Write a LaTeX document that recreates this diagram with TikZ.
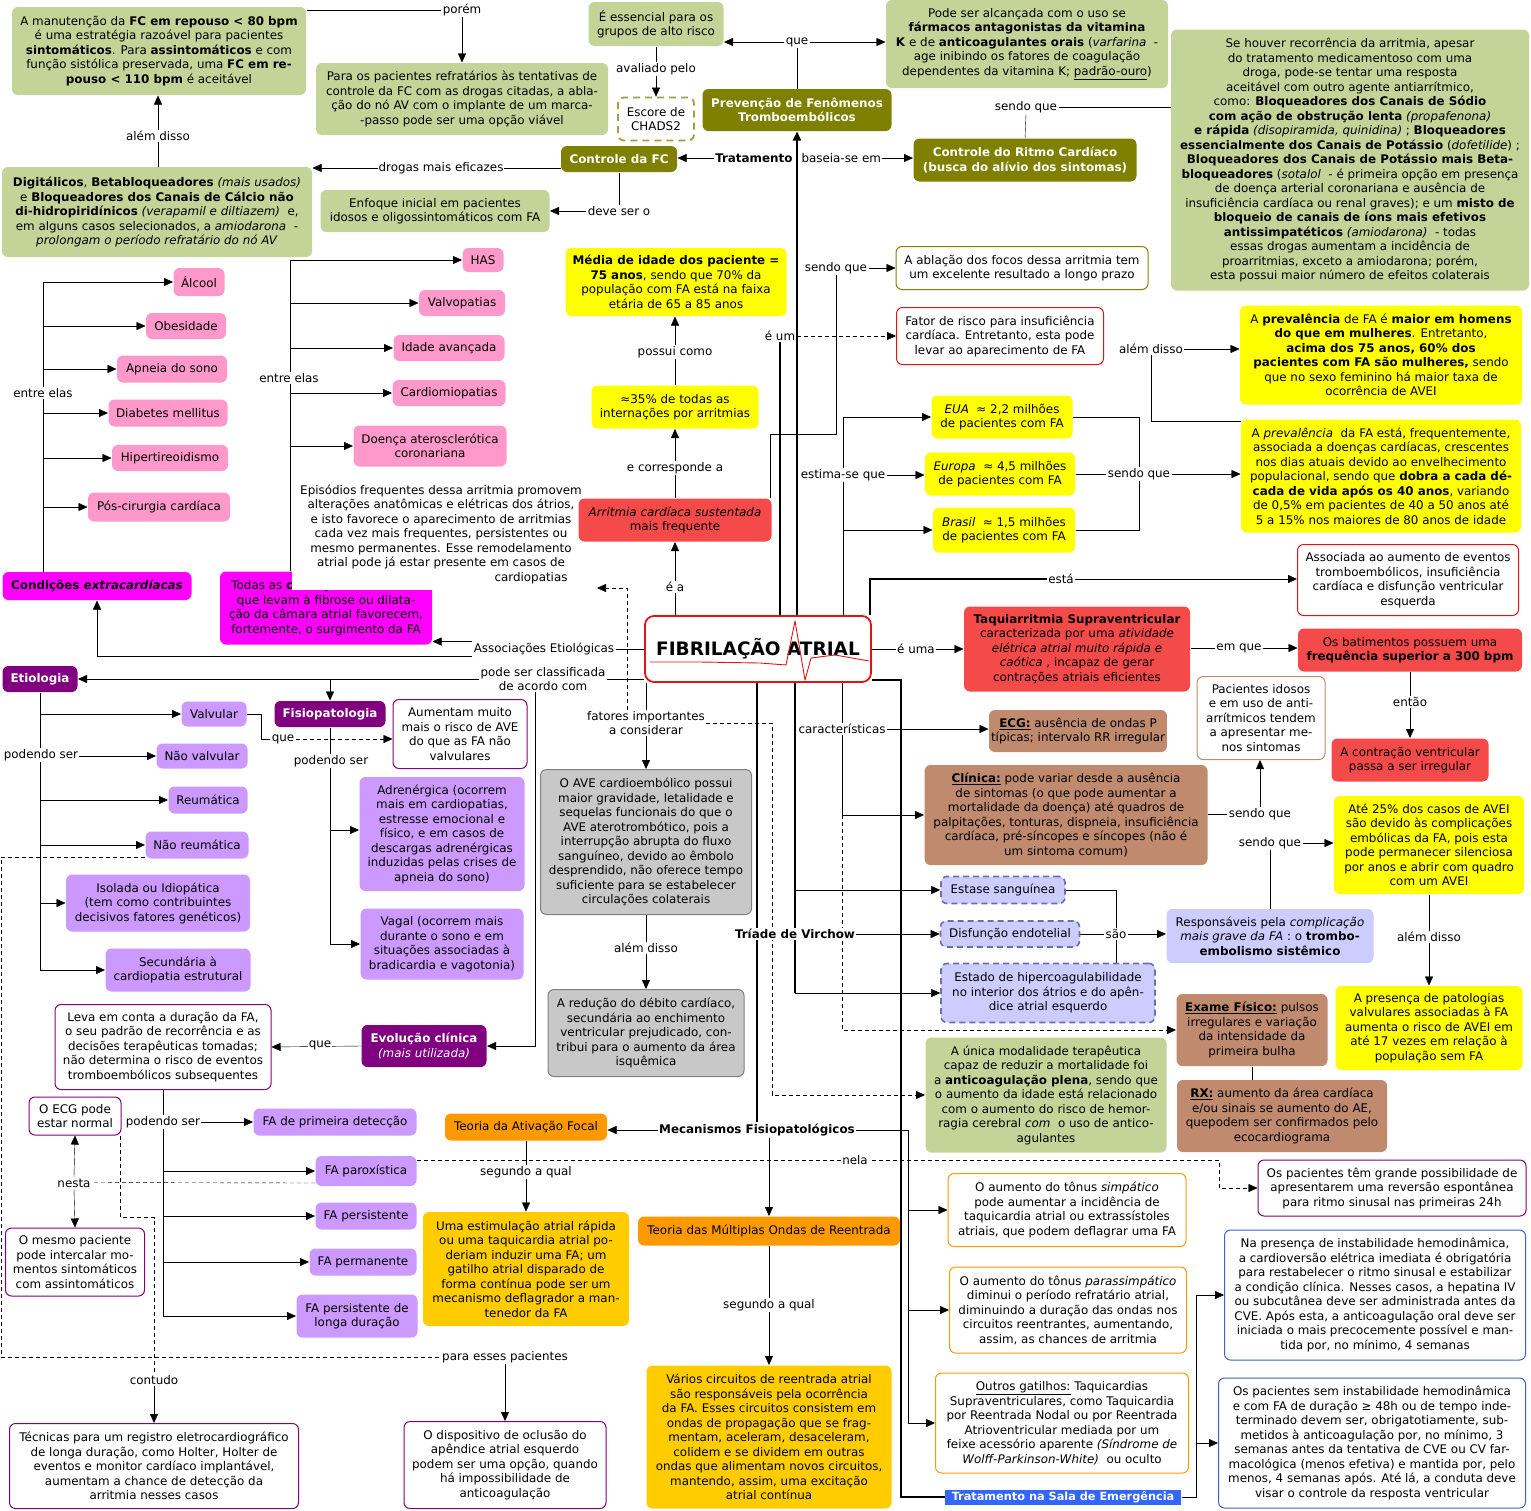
\documentclass[tikz,border=0pt]{standalone}
\usepackage{fontspec}
\setmainfont{DejaVu Sans}
\usetikzlibrary{arrows.meta,calc}
\newcommand\fs{\fontsize{11.9}{14.5}\selectfont}
\definecolor{cgreen}{RGB}{196,212,152}
\definecolor{colive}{RGB}{128,128,0}
\definecolor{cred}{RGB}{245,74,74}
\definecolor{cpink}{RGB}{255,153,204}
\definecolor{cmag}{RGB}{255,0,255}
\definecolor{cpurp}{RGB}{128,0,128}
\definecolor{clpurp}{RGB}{204,153,255}
\definecolor{clav}{RGB}{204,204,255}
\definecolor{clavb}{RGB}{110,110,175}
\definecolor{cbrown}{RGB}{192,138,110}
\definecolor{cgray}{RGB}{200,200,200}
\definecolor{corange}{RGB}{255,153,0}
\definecolor{cgold}{RGB}{255,204,0}
\definecolor{cblue}{RGB}{51,102,255}
\definecolor{cbord}{RGB}{60,100,200}
\definecolor{cyel}{RGB}{255,255,0}
\definecolor{cdred}{RGB}{225,20,20}
\pgfdeclarelayer{bg}
\pgfsetlayers{bg,main}
\begin{document}
\begin{tikzpicture}[x=1pt,y=-1pt,line width=1pt,
 base/.style={rounded corners=6pt,align=center,inner sep=2pt,font=\fs},
 wh/.style 2 args={minimum width=#1pt,minimum height=#2pt},
 sgreen/.style={base,fill=cgreen},
 solive/.style={base,fill=colive,text=white,font=\fs\bfseries},
 syel/.style={base,fill=cyel},
 sred/.style={base,fill=cred},
 spink/.style={base,fill=cpink},
 smag/.style={base,fill=cmag},
 spurp/.style={base,fill=cpurp,text=white,font=\fs\bfseries},
 slpurp/.style={base,fill=clpurp},
 slavd/.style={base,fill=clav,draw=clavb,line width=1.6pt,dash pattern=on 6pt off 4pt},
 slav/.style={base,fill=clav},
 sbrown/.style={base,fill=cbrown},
 sgray/.style={base,fill=cgray,draw=gray},
 sorange/.style={base,fill=corange},
 sgold/.style={base,fill=cgold},
 wpurp/.style={base,fill=white,draw=cpurp},
 wred/.style={base,fill=white,draw=cdred},
 wolive/.style={base,fill=white,draw=colive},
 wbrown/.style={base,fill=white,draw=cbrown},
 worange/.style={base,fill=white,draw=corange},
 wblue/.style={base,fill=white,draw=cbord},
 lbl/.style={font=\fs,fill=white,inner sep=1pt,align=center},
 tip/.style={-{Triangle[length=9pt,width=8pt]}},
 thk/.style={line width=2pt},
 dsh/.style={dash pattern=on 4pt off 3pt}]
\useasboundingbox (0,0) rectangle (1531,1510);

% ---------------- nodes ----------------
\node[sgreen,wh={294}{88}] (fc80) at (159,51) {A manutenção da \textbf{FC em repouso < 80 bpm}\\ é uma estratégia razoável para pacientes\\ \textbf{sintomáticos}. Para \textbf{assintomáticos} e com\\ função sistólica preservada, uma \textbf{FC em re-}\\ \textbf{pouso < 110 bpm} é aceitável};
\node[sgreen,wh={292}{72}] (refrat) at (462,99) {Para os pacientes refratários às tentativas de\\ controle da FC com as drogas citadas, a abla-\\ ção do nó AV com o implante de um marca-\\ -passo pode ser uma opção viável};
\node[sgreen,wh={135}{44}] (essencial) at (656,24) {É essencial para os\\ grupos de alto risco};
\node[base,fill=white,draw={rgb,255:red,160;green,160;blue,70},line width=1.8pt,dash pattern=on 7pt off 5pt,wh={76}{43}] (chads) at (656,119) {Escore de\\ CHADS2};
\node[solive,wh={189}{42}] (prev) at (797,110) {Prevenção de Fenômenos\\ Tromboembólicos};
\node[sgreen,wh={282}{88}] (varf) at (1027,44) {Pode ser alcançada com o uso se\\ \textbf{fármacos antagonistas da vitamina}\\ \textbf{K} e de \textbf{anticoagulantes orais} (\textit{varfarina}~ -\\ age inibindo os fatores de coagulação\\ dependentes da vitamina K; \underline{padrão-ouro})};
\node[solive,wh={116}{26}] (ctrlfc) at (619,159) {Controle da FC};
\node[solive,wh={223}{43}] (ritmo) at (1025,160) {Controle do Ritmo Cardíaco\\ (busca do alívio dos sintomas)};
\node[sgreen,wh={358}{261}] (recorr) at (1350,160) {Se houver recorrência da arritmia, apesar\\ do tratamento medicamentoso com uma\\ droga, pode-se tentar uma resposta\\ aceitável com outro agente antiarrítmico,\\ como: \textbf{Bloqueadores dos Canais de Sódio}\\ \textbf{com ação de obstrução lenta} \textit{(propafenona)}\\ \textbf{e rápida} \textit{(disopiramida, quinidina)} ; \textbf{Bloqueadores}\\ \textbf{essencialmente dos Canais de Potássio} (\textit{dofetilide}) ;\\ \textbf{Bloqueadores dos Canais de Potássio mais Beta-}\\ \textbf{bloqueadores} (\textit{sotalol}~ - é primeira opção em presença\\ de doença arterial coronariana e ausência de\\ insuficiência cardíaca ou renal graves); e um \textbf{misto de}\\ \textbf{bloqueio de canais de íons mais efetivos}\\ \textbf{antissimpatéticos} \textit{(amiodarona)}~ - todas\\ essas drogas aumentam a incidência de\\ proarritmias, exceto a amiodarona; porém,\\ esta possui maior número de efeitos colaterais};
\node[sgreen,wh={310}{90}] (digit) at (157,212) {\textbf{Digitálicos}, \textbf{Betabloqueadores} \textit{(mais usados)}\\ e \textbf{Bloqueadores dos Canais de Cálcio não}\\ \textbf{di-hidropiridínicos} \textit{(verapamil e diltiazem)}~ e,\\ em alguns casos selecionados, a \textit{amiodarona}~ -\\ \textit{prolongam o período refratário do nó AV}};
\node[sgreen,wh={229}{42}] (enfoque) at (435,211) {Enfoque inicial em pacientes\\ idosos e oligossintomáticos com FA};

\node[spink,wh={41}{24}] (has) at (483,260) {HAS};
\node[spink,wh={86}{26}] (valvop) at (462,303) {Valvopatias};
\node[spink,wh={111}{26}] (idade) at (449,348) {Idade avançada};
\node[spink,wh={113}{26}] (cardiom) at (449,393) {Cardiomiopatias};
\node[spink,wh={153}{41}] (doenca) at (430,446) {Doença aterosclerótica\\ coronariana};
\node[spink,wh={51}{28}] (alcool) at (199,282) {Álcool};
\node[spink,wh={80}{26}] (obes) at (186,326) {Obesidade};
\node[spink,wh={110}{27}] (apneia) at (172,369) {Apneia do sono};
\node[spink,wh={119}{27}] (diab) at (168,413) {Diabetes mellitus};
\node[spink,wh={116}{26}] (hiper) at (170,458) {Hipertireoidismo};
\node[spink,wh={142}{29}] (poscir) at (159,507) {Pós-cirurgia cardíaca};
\node[smag,wh={189}{28},font=\fs\bfseries] (cond) at (97,586) {Condições \textit{extracardíacas}};
\node[smag,wh={212}{73}] (todas) at (326,608) {Todas as \textbf{condições cardíacas}\\ que levam à fibrose ou dilata-\\ ção da câmara atrial favorecem,\\ fortemente, o surgimento da FA};
\node[base,fill=white,rounded corners=0pt,wh={298}{112}] (epis) at (441,534) {Episódios frequentes dessa arritmia promovem\\ alterações anatômicas e elétricas dos átrios,\\ e isto favorece o aparecimento de arritmias\\ cada vez mais frequentes, persistentes ou\\ mesmo permanentes. Esse remodelamento\\ atrial pode já estar presente em casos de\\ \hspace*{180pt}cardiopatias};

\node[syel,wh={221}{68}] (media) at (676,282) {\textbf{Média de idade dos paciente =}\\ \textbf{75 anos}, sendo que 70\% da\\ população com FA está na faixa\\ etária de 65 a 85 anos};
\node[syel,wh={167}{43}] (p35) at (675,407) {≈35\% de todas as\\ internações por arritmias};
\node[sred,wh={193}{43}] (arrit) at (675,520) {\textit{Arritmia cardíaca sustentada}\\ mais frequente};
\node[wolive,wh={252}{43}] (abl) at (1022,268) {A ablação dos focos dessa arritmia tem\\ um excelente resultado a longo prazo};
\node[wred,wh={207}{57}] (fator) at (1000,336) {Fator de risco para insuficiência\\ cardíaca. Entretanto, esta pode\\ levar ao aparecimento de FA};
\node[syel,wh={141}{43}] (eua) at (1002,417) {\textit{EUA}~ ≈ 2,2 milhões\\ de pacientes com FA};
\node[syel,wh={150}{43}] (europa) at (1000,474) {\textit{Europa}~ ≈ 4,5 milhões\\ de pacientes com FA};
\node[syel,wh={142}{45}] (brasil) at (1004,530) {\textit{Brasil}~ ≈ 1,5 milhões\\ de pacientes com FA};
\node[syel,wh={282}{99}] (prevA) at (1381,355) {A \textbf{prevalência} de FA é \textbf{maior em homens}\\ \textbf{do que em mulheres}. Entretanto,\\ \textbf{acima dos 75 anos, 60\% dos}\\ \textbf{pacientes com FA são mulheres,} sendo\\ que no sexo feminino há maior taxa de\\ ocorrência de AVEI};
\node[syel,wh={280}{113}] (prevB) at (1381,476) {A \textit{prevalência}~ da FA está, frequentemente,\\ associada a doenças cardíacas, crescentes\\ nos dias atuais devido ao envelhecimento\\ populacional, sendo que \textbf{dobra a cada dé-}\\ \textbf{cada de vida após os 40 anos}, variando\\ de 0,5\% em pacientes de 40 a 50 anos até\\ 5 a 15\% nos maiores de 80 anos de idade};
\node[wred,wh={221}{71}] (assoc) at (1408,580) {Associada ao aumento de eventos\\ tromboembólicos, insuficiência\\ cardíaca e disfunção ventricular\\ esquerda};

\node[base,fill=white,draw=cdred,line width=1.8pt,rounded corners=9pt,wh={226}{66},font=\fontsize{18.5}{20}\selectfont\bfseries] (fa) at (758,649) {FIBRILAÇÃO ATRIAL};
\draw[cdred,line width=0.9pt,line join=round] (650,662) -- (700,662) -- (760,663) -- (786,665) -- (795,621) -- (805,680) -- (811,658) -- (835,655) -- (869,661);

\node[sred,wh={226}{85}] (taqui) at (1077,649) {\textbf{Taquiarritmia Supraventricular}\\ caracterizada por uma \textit{atividade}\\ \textit{elétrica atrial muito rápida e}\\ \textit{caótica} , incapaz de gerar\\ contrações atriais eficientes};
\node[sred,wh={224}{43}] (bat) at (1410,650) {Os batimentos possuem uma\\ \textbf{frequência superior a 300 bpm}};
\node[sred,wh={157}{43}] (contr) at (1410,760) {A contração ventricular\\ passa a ser irregular};
\node[wbrown,wh={128}{83}] (idosos) at (1261,718) {Pacientes idosos\\ e em uso de anti-\\ arrítmicos tendem\\ a apresentar me-\\ nos sintomas};
\node[sbrown,wh={163}{42}] (ecgb) at (1078,731) {\underline{\textbf{ECG:}} ausência de ondas P\\ típicas; intervalo RR irregular};
\node[sbrown,wh={283}{100}] (clin) at (1066,815) {\underline{\textbf{Clínica:}} pode variar desde a ausência\\ de sintomas (o que pode aumentar a\\ mortalidade da doença) até quadros de\\ palpitações, tonturas, dispneia, insuficiência\\ cardíaca, pré-síncopes e síncopes (não é\\ um sintoma comum)};
\node[slavd,wh={124}{27}] (estase) at (1003,890) {Estase sanguínea};
\node[slavd,wh={139}{26}] (disf) at (1010,934) {Disfunção endotelial};
\node[slavd,wh={214}{59}] (estado) at (1048,993) {Estado de hipercoagulabilidade\\ no interior dos átrios e do apên-\\ dice atrial esquerdo};
\node[slav,wh={207}{54}] (resp) at (1270,936) {Responsáveis pela \textit{complicação}\\ \textit{mais grave da FA} : o \textbf{trombo-}\\ \textbf{embolismo sistêmico}};
\node[syel,wh={190}{98}] (ate25) at (1429,845) {Até 25\% dos casos de AVEI\\ são devido às complicações\\ embólicas da FA, pois esta\\ pode permanecer silenciosa\\ por anos e abrir com quadro\\ com um AVEI};
\node[syel,wh={187}{84}] (pres) at (1429,1028) {A presença de patologias\\ valvulares associadas à FA\\ aumenta o risco de AVEI em\\ até 17 vezes em relação à\\ população sem FA};
\node[sbrown,wh={151}{72}] (exame) at (1252,1030) {\underline{\textbf{Exame Físico:}} pulsos\\ irregulares e variação\\ da intensidade da\\ primeira bulha};
\node[sbrown,wh={210}{72}] (rx) at (1282,1116) {\underline{\textbf{RX:}} aumento da área cardíaca\\ e/ou sinais se aumento do AE,\\ quepodem ser confirmados pelo\\ ecocardiograma};
\node[sgreen,wh={241}{115}] (unica) at (1046,1095) {A única modalidade terapêutica\\ capaz de reduzir a mortalidade foi\\ a \textbf{anticoagulação plena}, sendo que\\ o aumento da idade está relacionado\\ com o aumento do risco de hemor-\\ ragia cerebral \textit{com}~ o uso de antico-\\ agulantes};

\node[spurp,wh={75}{26}] (etio) at (40,679) {Etiologia};
\node[spurp,wh={111}{26}] (fisio) at (330,714) {Fisiopatologia};
\node[slpurp,wh={65}{25}] (valv) at (214,714) {Valvular};
\node[slpurp,wh={91}{25}] (naoval) at (202,756) {Não valvular};
\node[slpurp,wh={79}{27}] (reum) at (208,800) {Reumática};
\node[slpurp,wh={103}{27}] (naoreu) at (197,845) {Não reumática};
\node[slpurp,wh={184}{57}] (isol) at (158,903) {Isolada ou Idiopática\\ (tem como contribuintes\\ decisivos fatores genéticos)};
\node[slpurp,wh={145}{43}] (sec) at (178,970) {Secundária à\\ cardiopatia estrutural};
\node[wpurp,wh={134}{69}] (aum) at (460,734) {Aumentam muito\\ mais o risco de AVE\\ do que as FA não\\ valvulares};
\node[slpurp,wh={165}{114}] (adren) at (442,834) {Adrenérgica (ocorrem\\ mais em cardiopatias,\\ estresse emocional e\\ físico, e em casos de\\ descargas adrenérgicas\\ induzidas pelas crises de\\ apneia do sono)};
\node[slpurp,wh={163}{71}] (vagal) at (442,944) {Vagal (ocorrem mais\\ durante o sono e em\\ situações associadas à\\ bradicardia e vagotonia)};
\node[sgray,wh={211}{145}] (ave) at (646,842) {O AVE cardioembólico possui\\ maior gravidade, letalidade e\\ sequelas funcionais do que o\\ AVE aterotrombótico, pois a\\ interrupção abrupta do fluxo\\ sanguíneo, devido ao êmbolo\\ desprendido, não oferece tempo\\ suficiente para se estabelecer\\ circulações colaterais};
\node[sgray,wh={196}{87}] (reduc) at (646,1033) {A redução do débito cardíaco,\\ secundária ao enchimento\\ ventricular prejudicado, con-\\ tribui para o aumento da área\\ isquêmica};
\node[spurp,wh={125}{42}] (evol) at (424,1046) {Evolução clínica\\ \textnormal{\textit{(mais utilizada)}}};
\node[wpurp,wh={216}{85}] (leva) at (163,1047) {Leva em conta a duração da FA,\\ o seu padrão de recorrência e as\\ decisões terapêuticas tomadas;\\ não determina o risco de eventos\\ tromboembólicos subsequentes};
\node[slpurp,wh={163}{27}] (prim) at (335,1122) {FA de primeira detecção};
\node[slpurp,wh={101}{30}] (parox) at (366,1171) {FA paroxística};
\node[slpurp,wh={101}{27}] (pers) at (366,1216) {FA persistente};
\node[slpurp,wh={107}{27}] (perm) at (363,1262) {FA permanente};
\node[slpurp,wh={121}{43}] (longa) at (357,1316) {FA persistente de\\ longa duração};
\node[wpurp,wh={92}{38}] (ecg) at (75,1116) {O ECG pode\\ estar normal};
\node[wpurp,wh={139}{68}] (mesmo) at (75,1262) {O mesmo paciente\\ pode intercalar mo-\\ mentos sintomáticos\\ com assintomáticos};
\node[wpurp,wh={289}{85}] (tecn) at (154,1466) {Técnicas para um registro eletrocardiográfico\\ de longa duração, como Holter, Holter de\\ eventos e monitor cardíaco implantável,\\ aumentam a chance de detecção da\\ arritmia nesses casos};
\node[wpurp,wh={202}{87}] (disp) at (505,1465) {O dispositivo de oclusão do\\ apêndice atrial esquerdo\\ podem ser uma opção, quando\\ há impossibilidade de\\ anticoagulação};
\node[sorange,wh={162}{27}] (focal) at (526,1127) {Teoria da Ativação Focal};
\node[sgold,wh={206}{114}] (estim) at (526,1269) {Uma estimulação atrial rápida\\ ou uma taquicardia atrial po-\\ deriam induzir uma FA; um\\ gatilho atrial disparado de\\ forma contínua pode ser um\\ mecanismo deflagrador a man-\\ tenedor da FA};
\node[sorange,wh={262}{29}] (mult) at (769,1231) {Teoria das Múltiplas Ondas de Reentrada};
\node[sgold,wh={245}{143}] (varios) at (769,1437) {Vários circuitos de reentrada atrial\\ são responsáveis pela ocorrência\\ da FA. Esses circuitos consistem em\\ ondas de propagação que se frag-\\ mentam, aceleram, desaceleram,\\ colidem e se dividem em outras\\ ondas que alimentam novos circuitos,\\ mantendo, assim, uma excitação\\ atrial contínua};
\node[worange,wh={238}{73}] (simp) at (1067,1210) {O aumento do tônus \textit{simpático}\\ pode aumentar a incidência de\\ taquicardia atrial ou extrassístoles\\ atriais, que podem deflagrar uma FA};
\node[worange,wh={237}{86}] (parass) at (1068,1310) {O aumento do tônus \textit{parassimpático}\\ diminui o período refratário atrial,\\ diminuindo a duração das ondas nos\\ circuitos reentrantes, aumentando,\\ assim, as chances de arritmia};
\node[worange,wh={253}{100}] (outros) at (1062,1423) {\underline{Outros gatilhos:} Taquicardias\\ Supraventriculares, como Taquicardia\\ por Reentrada Nodal ou por Reentrada\\ Atrioventricular mediada por um\\ feixe acessório aparente \textit{(Síndrome de}\\ \textit{Wolff-Parkinson-White)}~ ou oculto};
\node[fill=cblue,text=white,font=\fontsize{11.3}{14}\selectfont\bfseries,inner sep=1pt,wh={236}{15}] (tsala) at (1063,1497) {Tratamento na Sala de Emergência};
\node[wpurp,wh={268}{56}] (grande) at (1392,1188) {Os pacientes têm grande possibilidade de\\ apresentarem uma reversão espontânea\\ para ritmo sinusal nas primeiras 24h};
\node[wblue,wh={301}{130}] (napres) at (1375,1295) {Na presença de instabilidade hemodinâmica,\\ a cardioversão elétrica imediata é obrigatória\\ para restabelecer o ritmo sinusal e estabilizar\\ a condição clínica. Nesses casos, a hepatina IV\\ ou subcutânea deve ser administrada antes da\\ CVE. Após esta, a anticoagulação oral deve ser\\ iniciada o mais precocemente possível e man-\\ tida por, no mínimo, 4 semanas};
\node[wblue,wh={307}{130}] (sem) at (1372,1443) {Os pacientes sem instabilidade hemodinâmica\\ e com FA de duração ≥ 48h ou de tempo inde-\\ terminado devem ser, obrigatotiamente, sub-\\ metidos à anticoagulação por, no mínimo, 3\\ semanas antes da tentativa de CVE ou CV far-\\ macológica (menos efetiva) e mantida por, pelo\\ menos, 4 semanas após. Até lá, a conduta deve\\ visar o controle da resposta ventricular};

% ---------------- labels ----------------
\node[lbl] (lporem) at (462,10) {porém};
\node[lbl] (lavaliado) at (656,69) {avaliado pelo};
\node[lbl] (lque1) at (797,42) {que};
\node[lbl,anchor=east] (ltrat) at (794,158) {\textbf{Tratamento}};
\node[lbl,anchor=west] (lbaseia) at (800,158) {baseia-se em};
\node[lbl] (lsendo1) at (1026,107) {sendo que};
\node[lbl] (lalem1) at (158,136) {além disso};
\node[lbl] (ldrogas) at (441,168) {drogas mais eficazes};
\node[lbl] (ldeve) at (619,211) {deve ser o};
\node[lbl] (lentre1) at (43,393) {entre elas};
\node[lbl] (lentre2) at (289,378) {entre elas};
\node[lbl] (lposs) at (675,352) {possui como};
\node[lbl] (lcorr) at (675,468) {e corresponde a};
\node[lbl] (lea) at (675,587) {é a};
\node[lbl] (lsendo2) at (836,268) {sendo que};
\node[lbl] (lehum) at (780,336) {é um};
\node[lbl] (lestima) at (843,475) {estima-se que};
\node[lbl] (lsendo3) at (1139,474) {sendo que};
\node[lbl] (lalem3) at (1151,349) {além disso};
\node[lbl] (lesta) at (1061,579) {está};
\node[lbl] (leuma) at (916,649) {é uma};
\node[lbl] (lemque) at (1239,648) {em que};
\node[lbl] (lentao) at (1410,702) {então};
\node[lbl] (lassoc) at (544,649) {Associações Etiológicas};
\node[lbl] (lclass) at (543,679) {pode ser classificada\\de acordo com};
\node[lbl] (lfat) at (646,723) {fatores importantes\\a considerar};
\node[lbl] (lcarac) at (842,729) {características};
\node[lbl] (lsendo4) at (1260,814) {sendo que};
\node[lbl] (lvir) at (795,934) {\textbf{Tríade de Virchow}};
\node[lbl] (lsao) at (1116,934) {são};
\node[lbl] (lsendo5) at (1270,843) {sendo que};
\node[lbl] (lalem5) at (1429,937) {além disso};
\node[lbl] (lalem4) at (646,948) {além disso};
\node[lbl] (lpod1) at (41,755) {podendo ser};
\node[lbl] (lque2) at (283,739) {que};
\node[lbl] (lpod2) at (331,761) {podendo ser};
\node[lbl] (lque3) at (320,1045) {que};
\node[lbl] (lpod3) at (163,1122) {podendo ser};
\node[lbl] (lnesta) at (74,1183) {nesta};
\node[lbl] (lnela) at (855,1160) {nela};
\node[lbl] (lcontudo) at (154,1380) {contudo};
\node[lbl] (lpara) at (505,1357) {para esses pacientes};
\node[lbl] (lmec) at (757,1130) {\textbf{Mecanismos Fisiopatológicos}};
\node[lbl] (lseg1) at (526,1172) {segundo a qual};
\node[lbl] (lseg2) at (769,1305) {segundo a qual};

\coordinate (v1) at (43,283);
\coordinate (v2) at (290,260);
\coordinate (tx) at (901,0);
\coordinate (tx2) at (1196,0);
\coordinate (mx) at (908,0);
\coordinate (epiarr) at (597,588);

% ---------------- connectors ----------------
\begin{pgfonlayer}{bg}
\fill[white] (0,0) rectangle (1531,1510);
\draw (fc80.east |- lporem) -- (lporem.west);
\draw[tip] (lporem.south) -- (refrat.north);
\draw[tip] (essencial.south) -- (chads.north);
\draw (prev.north) -- (prev.north |- lque1);
\draw[tip] (lque1) -- (essencial.east |- lque1);
\draw[tip] (lque1) -- (varf.west |- lque1);
\draw[thk,tip] (fa.north -| prev) -- (prev.south);
\draw[tip] (ltrat.west) -- (ctrlfc.east |- ltrat);
\draw[tip] (lbaseia.east) -- (ritmo.west |- lbaseia);
\draw (ritmo.north) -- (lsendo1.south);
\draw (lsendo1.east) -- (recorr.west |- lsendo1);
\draw[tip] (digit.north -| lalem1) -- (fc80.south -| lalem1);
\draw[tip] (ctrlfc.west |- ldrogas) -- (digit.east |- ldrogas);
\draw (ctrlfc.south) -- (ldeve.north);
\draw[tip] (ldeve.west) -- (enfoque.east |- ldeve);
% pinks
\draw (cond.north -| v1) -- (v1);
\foreach \n in {alcool,obes,apneia,diab,hiper,poscir} \draw[tip] (v1 |- \n) -- (\n.west);
\draw (todas.north -| v2) -- (v2);
\foreach \n in {has,valvop,idade,cardiom,doenca} \draw[tip] (v2 |- \n) -- (\n.west);
% FA top
\draw[tip] (fa.north -| arrit) -- (arrit.south);
\draw[tip] (arrit.north) -- (p35.south);
\draw[tip] (p35.north) -- (media.south -| p35);
\draw ([xshift=-2pt]arrit.north east) -- ++(0,-64) -| (lsendo2.south);
\draw[tip] (lsendo2.east) -- (abl.west |- lsendo2);
\draw[thk] (fa.north -| lehum) -- (lehum.south);
\draw[dsh,tip] (lehum.east) -- (fator.west |- lehum);
\draw (fa.north -| lestima) -- (lestima |- eua);
\draw[tip] (lestima |- eua) -- (eua.west);
\draw[tip] (lestima.east) -- (europa.west |- lestima);
\draw[tip] (lestima |- brasil) -- (brasil.west);
\draw (eua.east) -| (lsendo3.north);
\draw (brasil.east) -| (lsendo3.south);
\draw (europa.east |- lsendo3) -- (lsendo3.west);
\draw[tip] (lsendo3.east) -- (prevB.west |- lsendo3);
\draw ([yshift=-2pt]prevB.north west) -| (lalem3.south);
\draw[tip] (lalem3.east) -- (prevA.west |- lalem3);
\draw[thk] ([xshift=-2pt]fa.north east) |- (lesta.west);
\draw[tip] (lesta.east) -- (assoc.west |- lesta);
\draw[tip] (fa.east) -- (taqui.west);
\draw[tip] (taqui.east |- lemque) -- (bat.west |- lemque);
\draw[tip] (bat.south) -- (contr.north);
% FA left
\draw (fa.west) -- (lassoc.east);
\draw[tip] (lassoc.north west) -- (todas.east |- lassoc.north west);
\draw[tip] (lassoc.south west) -| (cond.south);
\draw (fa.west |- lclass) -- (lclass.east);
\draw[tip] (lclass.west) -- (etio.east);
\draw[tip] (fisio.north |- lclass) -- (fisio.north);
\draw[tip] ([xshift=-8pt]lclass.south) |- (evol.east);
% etiologia
\draw (etio.south) -- (etio.south |- sec);
\foreach \n in {valv,naoval,reum,naoreu,isol,sec} \draw[tip] (etio.south |- \n) -- (\n.west);
\draw (valv.east) -- ++(14,0) |- (lque2.west);
\draw[dsh,tip] (lque2.east) -- (aum.west |- lque2);
\draw (fisio.south) -- (fisio.south |- vagal);
\draw[tip] (fisio.south |- 0,830) -- (adren.west |- 0,830);
\draw[tip] (fisio.south |- vagal) -- (vagal.west);
\draw[dsh] ([yshift=2pt]naoreu.south west) -- ++(-144,0) |- (lpara.west);
\draw[tip] (lpara.south) -- (disp.north);
% evolução
\draw[tip] (evol.west) -- (leva.east);
\draw (leva.south) -- (leva.south |- longa);
\foreach \n in {prim,parox,pers,perm,longa} \draw[tip] (leva.south |- \n) -- (\n.west);
\draw[dsh] ([yshift=3.5pt]parox.south west) -- (lnesta.east |- 0,1182.5);
\draw[tip] (lnesta.north) -- (ecg.south);
\draw[tip] (lnesta.south) -- (mesmo.north);
\draw[dsh,tip] ([yshift=11pt]parox.east) -| ([xshift=-38pt]grande.west) -- (grande.west);
\draw[dsh] ([xshift=-1pt]ecg.south east) -- ++(0,82) -| (lcontudo.north);
\draw[tip] (lcontudo.south) -- (tecn.north);
% FA bottom
\draw (fa.south -| lfat) -- (lfat.north);
\draw[tip] (lfat.south) -- (ave.north);
\draw[tip] (ave.south) -- (reduc.north);
\draw[dsh,tip] ([xshift=-19pt]lfat.north) |- (epiarr);
\draw[dsh,tip] (lfat.east) -| ([xshift=-153pt]unica.west) -- (unica.west);
\draw[thk] (fa.south -| lmec) -- (lmec.north);
\draw[tip] (lmec.west) -- (focal.east |- lmec);
\draw[tip] (lmec.south -| mult) -- (mult.north);
\draw (lmec.east) -| (mx |- outros);
\foreach \n in {simp,parass,outros} \draw[tip] (mx |- \n) -- (\n.west);
\draw[tip] (focal.south) -- (estim.north);
\draw[tip] (mult.south) -- (varios.north);
\draw[thk] (fa.south -| lvir) -- (lvir |- estado);
\draw[tip] (lvir |- estase) -- (estase.west);
\draw[tip] (lvir.east) -- (disf.west);
\draw[tip] (lvir |- estado) -- (estado.west);
\draw (estase.east) -| (lsao.north);
\draw (lsao.south) -- (lsao |- estado.north);
\draw (disf.east) -- (lsao.west);
\draw[tip] (lsao.east) -- (resp.west |- lsao);
\draw (resp.north) -- (lsendo5.south);
\draw[tip] (lsendo5.east) -- (ate25.west |- lsendo5);
\draw[tip] (ate25.south) -- (pres.north);
\draw (fa.south -| lcarac) -- (lcarac |- clin);
\draw[tip] (lcarac.east) -- (ecgb.west |- lcarac);
\draw[tip] (lcarac |- clin) -- (clin.west);
\draw[dsh,tip] (lcarac |- clin) -- (lcarac |- exame) -- (exame.west);
\draw (clin.east |- lsendo4) -- (lsendo4.west);
\draw[tip] (lsendo4.north) -- (idosos.south -| lsendo4);
\draw (exame.south) -- (exame.south |- rx.north);
\draw[thk] ([yshift=3pt]fa.south east) -| (tx |- tsala) -- (tsala.west);
\draw (tsala.east) -| (tx2 |- napres);
\draw[tip] (tx2 |- napres) -- (napres.west);
\draw[tip] (tx2 |- sem) -- (sem.west);
\end{pgfonlayer}
\end{tikzpicture}
\end{document}
